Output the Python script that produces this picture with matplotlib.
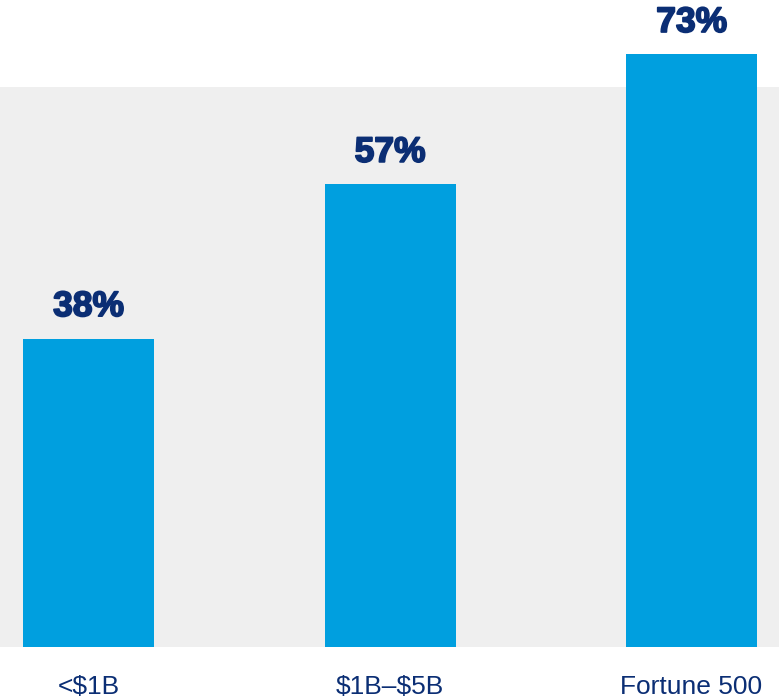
import matplotlib
matplotlib.use("Agg")
import matplotlib.pyplot as plt
import matplotlib.patheffects as pe

categories = ["<\\$1B", "\\$1B\u2013\\$5B", "Fortune 500"]
values = [38, 57, 73]
value_labels = ["38%", "57%", "73%"]

bar_color = "#009FDF"
navy = "#0B2E74"

plt.rcParams['font.family'] = ['Liberation Sans', 'DejaVu Sans']

fig = plt.figure(figsize=(7.79, 6.99), dpi=100)
# axes spans whole width; baseline sits at 647 px from the top
ax = fig.add_axes([0, 52 / 699, 1, 647 / 699])

x = range(len(categories))
ax.axhspan(0, 69, color="#EFEFEF", zorder=0, lw=0)
ax.bar(x, values, width=0.4345, color=bar_color, zorder=2)

for i, (v, lab) in enumerate(zip(values, value_labels)):
    ax.text(i, v + 1.9, lab, ha="center", va="bottom", fontsize=25.5,
            fontweight="bold", color=navy,
            path_effects=[pe.withStroke(linewidth=1.3, foreground=navy)])

ax.set_xlim(-0.2935, 2.29)
ax.set_ylim(0, 79.7)
ax.set_xticks(list(x))
ax.set_xticklabels(categories, fontsize=19, color=navy)
ax.tick_params(axis="x", length=0, pad=20)
ax.set_yticks([])
for s in ax.spines.values():
    s.set_visible(False)

fig.savefig("out.png", dpi=100)
